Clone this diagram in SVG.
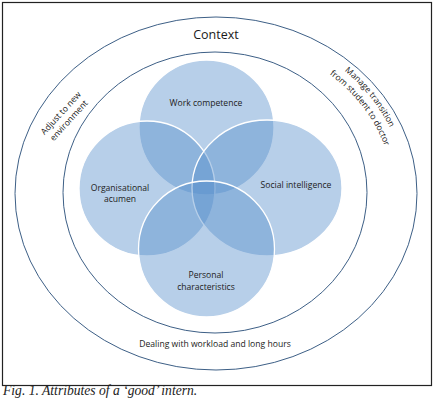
<svg xmlns="http://www.w3.org/2000/svg" width="436" height="413" viewBox="0 0 436 413">
<style>
.ring{fill:none;stroke:#3d5f86;stroke-width:1}
.blob{fill:#578fcc;fill-opacity:0.43;stroke:#ffffff;stroke-width:1.3}
.lbl{font-family:"Open Sans","Noto Sans",sans-serif;font-size:8.6px;fill:#222;text-anchor:middle}
.ctx{font-family:"Open Sans","Noto Sans",sans-serif;font-size:12.5px;fill:#1a1a1a;text-anchor:middle}
.cap{font-family:"Liberation Serif",serif;font-style:italic;font-size:13.6px;fill:#222}
</style>
<defs>
<path id="arcR1" d="M 344.6 70.9 A 190 167 0 0 1 398.5 236.2"/>
<path id="arcR2" d="M 329.4 74.3 A 178 155 0 0 1 386.9 233.1"/>
</defs>
<rect x="2.5" y="2.5" width="429" height="383" fill="#fff" stroke="#222" stroke-width="1.2"/>
<g id="context">
<ellipse class="ring" cx="216" cy="193.5" rx="201" ry="176.5"/>
<text class="ctx" x="216" y="39">Context</text>
</g>
<g id="adjust">
<text class="lbl" transform="translate(63,115) rotate(-47.7)">Adjust to new</text>
<text class="lbl" transform="translate(71,122.5) rotate(-47.7)">environment</text>
</g>
<g id="manage">
<text class="lbl" style="text-anchor:start"><textPath href="#arcR1">Manage transition</textPath></text>
<text class="lbl" style="text-anchor:start"><textPath href="#arcR2">from student to doctor</textPath></text>
</g>
<g id="workload">
<ellipse class="ring" cx="215" cy="192.5" rx="152" ry="140.5"/>
<text class="lbl" x="215" y="347">Dealing with workload and long hours</text>
</g>
<g id="work-competence">
<circle class="blob" cx="206.5" cy="127.5" r="67.5"/>
<text class="lbl" x="206" y="106">Work competence</text>
</g>
<g id="organisational-acumen">
<ellipse class="blob" cx="147" cy="188.5" rx="68" ry="67.5"/>
<text class="lbl" x="120" y="191">Organisational</text>
<text class="lbl" x="120" y="202">acumen</text>
</g>
<g id="social-intelligence">
<ellipse class="blob" cx="267" cy="188" rx="75" ry="68"/>
<text class="lbl" x="296" y="188">Social intelligence</text>
</g>
<g id="personal-characteristics">
<circle class="blob" cx="206.5" cy="249" r="68"/>
<text class="lbl" x="206" y="278">Personal</text>
<text class="lbl" x="206" y="290">characteristics</text>
</g>
<text class="cap" x="3" y="395">Fig. 1. Attributes of a ‘good’ intern.</text>
</svg>
